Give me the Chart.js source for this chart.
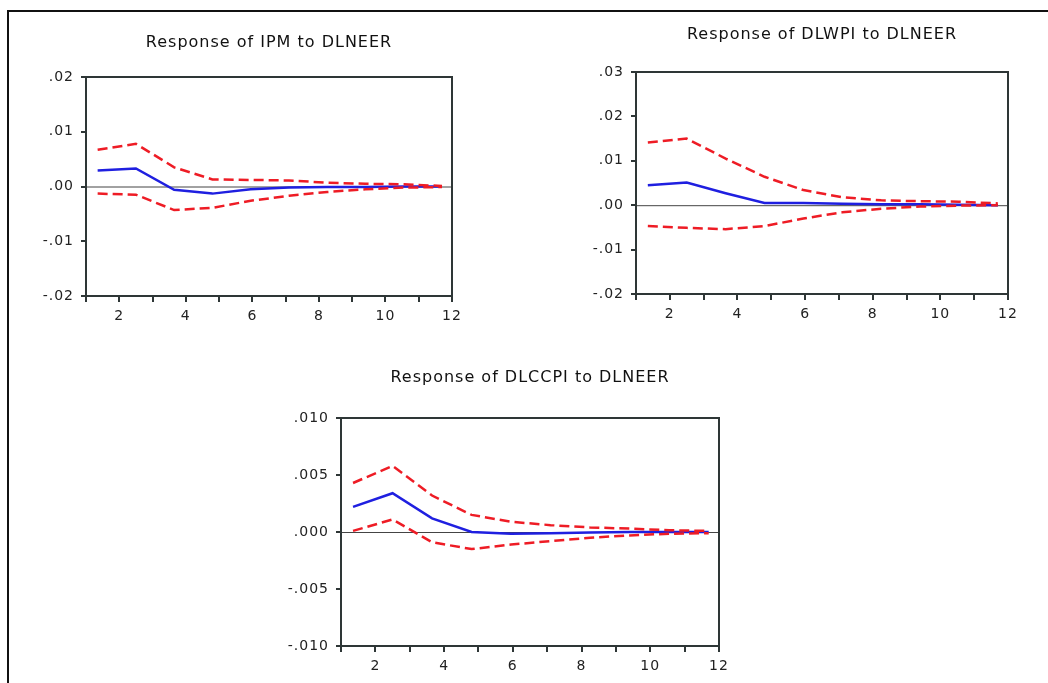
<!DOCTYPE html>
<html>
<head>
<meta charset="utf-8">
<script src="https://cdn.jsdelivr.net/npm/chart.js@4/dist/chart.umd.min.js"></script>
<style>
  html, body { margin: 0; padding: 0; background: #fff; overflow: hidden; width: 1048px; height: 683px; }
  .frame { position: absolute; left: 7px; top: 10px; width: 1100px; height: 700px; border-left: 2px solid #111; border-top: 2px solid #111; }
  canvas { position: absolute; }
</style>
</head>
<body>
<div class="frame"></div>
<canvas id="c1" width="478" height="305" style="left:30px;top:25px"></canvas>
<canvas id="c2" width="484" height="311" style="left:580px;top:17px"></canvas>
<canvas id="c3" width="498" height="320" style="left:281px;top:360px"></canvas>
<script>
// horizon positions as they sit on the drawn axis
const periods = [1.35, 2.5, 3.65, 4.8, 5.95, 7.1, 8.25, 9.4, 10.55, 11.7];

// Response of IPM to DLNEER
const ipmResp  = [0.0029, 0.0033, -0.0006, -0.0013, -0.0005, -0.0002, -0.0001, -0.0001, 0.0000, 0.0000];
const ipmUpper = [0.0067, 0.0078, 0.0035, 0.0013, 0.0012, 0.0011, 0.0007, 0.0005, 0.0004, 0.0001];
const ipmLower = [-0.0013, -0.0015, -0.0043, -0.0039, -0.0026, -0.0017, -0.0010, -0.0005, -0.0002, -0.0001];

// Response of DLWPI to DLNEER
const wpiResp  = [0.0045, 0.0051, 0.0027, 0.0005, 0.0005, 0.0003, 0.0002, 0.0002, 0.0001, 0.0000];
const wpiUpper = [0.0141, 0.0150, 0.0105, 0.0064, 0.0034, 0.0018, 0.0011, 0.0009, 0.0008, 0.0004];
const wpiLower = [-0.0047, -0.0051, -0.0054, -0.0047, -0.0030, -0.0016, -0.0008, -0.0003, -0.0001, 0.0000];

// Response of DLCCPI to DLNEER
const ccpiResp  = [0.0022, 0.0034, 0.0012, 0.0000, -0.00015, -0.0001, -0.00005, 0.0000, 0.0000, 0.0000];
const ccpiUpper = [0.0043, 0.0058, 0.0032, 0.0015, 0.0009, 0.0006, 0.0004, 0.0003, 0.00015, 0.0001];
const ccpiLower = [0.0001, 0.0011, -0.0009, -0.0015, -0.0011, -0.0008, -0.0005, -0.0003, -0.00015, -0.0001];

const xTicks = [2, 4, 6, 8, 10, 12];

const FONT = "'DejaVu Sans', Verdana, sans-serif";
const AXIS = "#2e3636";

// box around the plot + zero line, and the wide lettering of the original
const framePlugin = {
  id: "frame",
  beforeDraw(chart) {
    chart.ctx.letterSpacing = "1px";
  },
  beforeDatasetsDraw(chart) {
    const { ctx, chartArea: a, scales } = chart;
    const y0 = scales.y.getPixelForValue(0);
    ctx.save();
    ctx.strokeStyle = "#444";
    ctx.lineWidth = 1;
    ctx.beginPath();
    ctx.moveTo(a.left, y0 + 0.5);
    ctx.lineTo(a.right, y0 + 0.5);
    ctx.stroke();
    ctx.restore();
  },
  afterDraw(chart) {
    const { ctx, chartArea: a } = chart;
    ctx.save();
    ctx.strokeStyle = AXIS;
    ctx.lineWidth = 2;
    ctx.strokeRect(a.left, a.top, a.right - a.left, a.bottom - a.top);
    ctx.restore();
  }
};

function toPoints(vals) {
  return vals.map((v, i) => ({ x: periods[i], y: v }));
}

function fmt(v, dec) {
  return Number(v).toFixed(dec).replace("0.", ".");
}

function makeChart(id, title, resp, upper, lower, yMin, yMax, step, dec, yWidth, titlePad) {
  const ctx = document.getElementById(id).getContext("2d");
  return new Chart(ctx, {
    type: "line",
    data: {
      datasets: [
        { data: toPoints(upper), borderColor: "#ee1c25", borderWidth: 2.5, borderDash: [10, 5], pointRadius: 0, tension: 0 },
        { data: toPoints(lower), borderColor: "#ee1c25", borderWidth: 2.5, borderDash: [10, 5], pointRadius: 0, tension: 0 },
        { data: toPoints(resp), borderColor: "#1f1fe0", borderWidth: 2.5, pointRadius: 0, tension: 0 },
      ],
    },
    options: {
      responsive: false,
      animation: false,
      layout: { padding: { left: 0, right: 0, top: 0, bottom: 4 } },
      plugins: {
        legend: { display: false },
        tooltip: { enabled: false },
        title: {
          display: true,
          text: title,
          color: "#111",
          font: { family: FONT, size: 16, weight: "normal" },
          padding: { top: 8.4, bottom: titlePad },
        },
      },
      scales: {
        x: {
          type: "linear",
          min: 1,
          max: 12,
          afterFit: (s) => { s.height = 30; },
          afterBuildTicks: (s) => {
            s.ticks = [];
            for (let v = 1; v <= 12; v++) s.ticks.push({ value: v });
          },
          ticks: {
            autoSkip: false,
            maxRotation: 0,
            padding: 6,
            color: "#222",
            font: { family: FONT, size: 14 },
            callback: (v) => (xTicks.includes(v) ? String(v) : ""),
          },
          grid: { drawOnChartArea: false, drawTicks: true, tickLength: 6, color: AXIS, lineWidth: 2 },
          border: { display: false },
        },
        y: {
          min: yMin,
          max: yMax,
          afterFit: (s) => { s.width = yWidth; },
          ticks: {
            stepSize: step,
            padding: 7,
            color: "#222",
            font: { family: FONT, size: 14 },
            callback: (v) => fmt(v, dec),
          },
          grid: { drawOnChartArea: false, drawTicks: true, tickLength: 5, color: AXIS, lineWidth: 2 },
          border: { display: false },
        },
        // empty right-hand strip so the title centres over the plot
        yr: {
          position: "right",
          afterFit: (s) => { s.width = yWidth; },
          ticks: { display: false },
          grid: { display: false },
          border: { display: false },
        },
      },
    },
    plugins: [framePlugin],
  });
}

makeChart("c1", "Response of IPM to DLNEER", ipmResp, ipmUpper, ipmLower, -0.02, 0.02, 0.01, 2, 56, 24.4);
makeChart("c2", "Response of DLWPI to DLNEER", wpiResp, wpiUpper, wpiLower, -0.02, 0.03, 0.01, 2, 56, 27.4);
makeChart("c3", "Response of DLCCPI to DLNEER", ccpiResp, ccpiUpper, ccpiLower, -0.010, 0.010, 0.005, 3, 60, 30.4);
</script>
</body>
</html>
